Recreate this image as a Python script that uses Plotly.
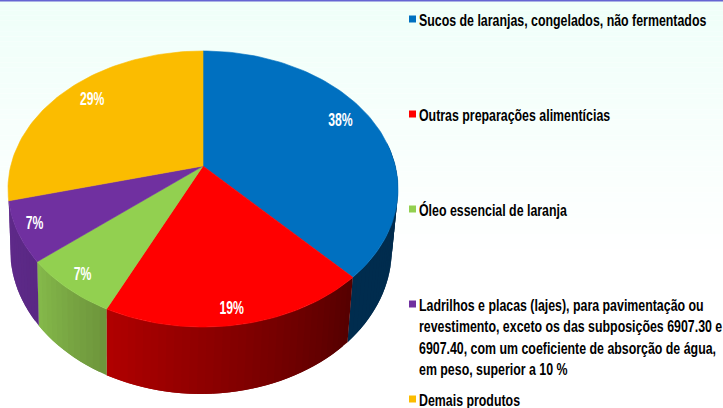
import math
import plotly.graph_objects as go

# ---- data ----
categories = [
    "Sucos de laranjas, congelados, não fermentados",
    "Outras preparações alimentícias",
    "Óleo essencial de laranja",
    "Ladrilhos e placas (lajes), para pavimentação ou<br>revestimento, exceto os das subposições 6907.30 e<br>6907.40, com um coeficiente de absorção de água,<br>em peso, superior a 10 %",
    "Demais produtos",
]
values = [38, 19, 7, 7, 29]
colors = ["#0070C0", "#FF0000", "#92D050", "#7030A0", "#FBBC00"]
side_left = ["#002C4E", "#B00000", "#84B84A", "#5F2A8A", "#BF9000"]
side_right = ["#002C4E", "#560000", "#6E963C", "#5A2884", "#BF9000"]
label_radius = [0.84, 0.91, 0.90, 0.91, 0.83]
label_turn = [-4, 1, 0, 1, 3]
legend_y = [19, 114, 209, 304, 399]

# ---- projection of the tilted pie ----
W, H = 723, 408
K = 1 / 6
CX, CY = 203, 166
A, B = 192.3, 134.2
BCX, BCY, BSX, BSY = 201, 226, 0.978, 1.043


def top(theta, r=1.0):
    t = math.radians(theta)
    u, v = r * math.sin(t), r * math.cos(t)
    w = 1 + K * v
    return CX + A * u / w, CY - B * v / w


def bottom(theta):
    t = math.radians(theta)
    u, v = math.sin(t), math.cos(t)
    w = 1 + K * v
    return BCX + BSX * A * u / w, BCY - BSY * B * v / w


def mix(c1, c2, f):
    a = [int(c1[i:i + 2], 16) for i in (1, 3, 5)]
    b = [int(c2[i:i + 2], 16) for i in (1, 3, 5)]
    return "#%02x%02x%02x" % tuple(round(p + (q - p) * f) for p, q in zip(a, b))


total = sum(values)
edges = [0]
for val in values:
    edges.append(edges[-1] + val / total * 360)

fig = go.Figure()


def poly(pts, color, lw=0.6):
    fig.add_trace(go.Scatter(
        x=[p[0] for p in pts] + [pts[0][0]],
        y=[p[1] for p in pts] + [pts[0][1]],
        mode="lines", fill="toself", fillcolor=color,
        line=dict(color=color, width=lw), hoverinfo="skip", showlegend=False))


# side wall, front half only; strips overlap so no seams show
VIS0, VIS1 = 80, edges[4]
for i in range(len(values)):
    a0, a1 = max(edges[i], VIS0), min(edges[i + 1], VIS1)
    if a1 <= a0:
        continue
    n = max(2, int((a1 - a0) / 2))
    for j in range(n):
        t0 = a0 + (a1 - a0) * j / n
        t1 = min(a1, a0 + (a1 - a0) * (j + 2) / n)
        col = mix(side_right[i], side_left[i], j / (n - 1))
        pts = [top(t0)] + [top(t0 + (t1 - t0) * q / 4) for q in range(1, 5)] \
            + [bottom(t0 + (t1 - t0) * q / 4) for q in range(4, -1, -1)]
        poly(pts, col, 0)

# top face
for i in range(len(values)):
    n = max(2, int((edges[i + 1] - edges[i]) / 1.5))
    arc = [top(edges[i] + (edges[i + 1] - edges[i]) * j / n) for j in range(n + 1)]
    poly([(CX, CY)] + arc, colors[i])

# percentage labels
lx, ly, lt = [], [], []
for i, val in enumerate(values):
    mid = (edges[i] + edges[i + 1]) / 2 + label_turn[i]
    x, y = top(mid, label_radius[i])
    lx.append(x)
    ly.append(y + 1.5)
    lt.append(f"<b>{round(val / total * 100)}%</b>")
fig.add_trace(go.Scatter(
    x=lx, y=ly, text=lt, mode="text", hoverinfo="skip", showlegend=False,
    textfont=dict(family="Liberation Sans", size=18, color="white")))

# legend
fig.add_trace(go.Scatter(
    x=[412.5] * len(values), y=legend_y, mode="markers", hoverinfo="skip", showlegend=False,
    marker=dict(symbol="square", size=7, color=colors, line=dict(width=0))))
annotations = []
for name, y in zip(categories, legend_y):
    annotations.append(dict(
        x=416.5, y=y - 10.5, xref="x", yref="y", text=f"<b>{name}</b>",
        showarrow=False, xanchor="left", yanchor="top", align="left",
        font=dict(family="Liberation Sans", size=16.5, color="black")))

# background wash
shapes = []
steps = 50
for s in range(steps):
    y0 = 260 * s / steps
    y1 = 260 * (s + 1) / steps
    shapes.append(dict(type="rect", xref="x", yref="y", x0=0, x1=W, y0=y0, y1=y1,
                       layer="below", line=dict(width=0),
                       fillcolor=mix("#EFFFF9", "#FFFFFF", s / (steps - 1))))
shapes.append(dict(type="rect", xref="x", yref="y", x0=0, x1=W, y0=0, y1=1.4,
                   layer="above", line=dict(width=0), fillcolor="#6464D2"))

fig.update_layout(
    width=W, height=H, margin=dict(l=0, r=0, t=0, b=0),
    paper_bgcolor="white", plot_bgcolor="rgba(0,0,0,0)",
    xaxis=dict(range=[0, W], visible=False, fixedrange=True),
    yaxis=dict(range=[H, 0], visible=False, fixedrange=True),
    annotations=annotations, shapes=shapes, showlegend=False)

# no page margin; squeeze the text horizontally (no narrow font is installed)
squeeze = """
document.body.style.margin = '0';
document.documentElement.style.overflow = 'hidden';
function squeeze(sel, f, centre) {
  document.querySelectorAll(sel).forEach(function (el) {
    var b = el.getBBox();
    var x = centre ? b.x + b.width / 2 : b.x;
    el.setAttribute('transform', (el.getAttribute('transform') || '') +
      ' translate(' + x + ',0) scale(' + f + ',1) translate(' + (-x) + ',0)');
  });
}
squeeze('.annotation-text', 0.75, false);
squeeze('.textpoint text', 0.68, true);
"""
fig.write_html("out.html", config={"displayModeBar": False}, post_script=squeeze)
